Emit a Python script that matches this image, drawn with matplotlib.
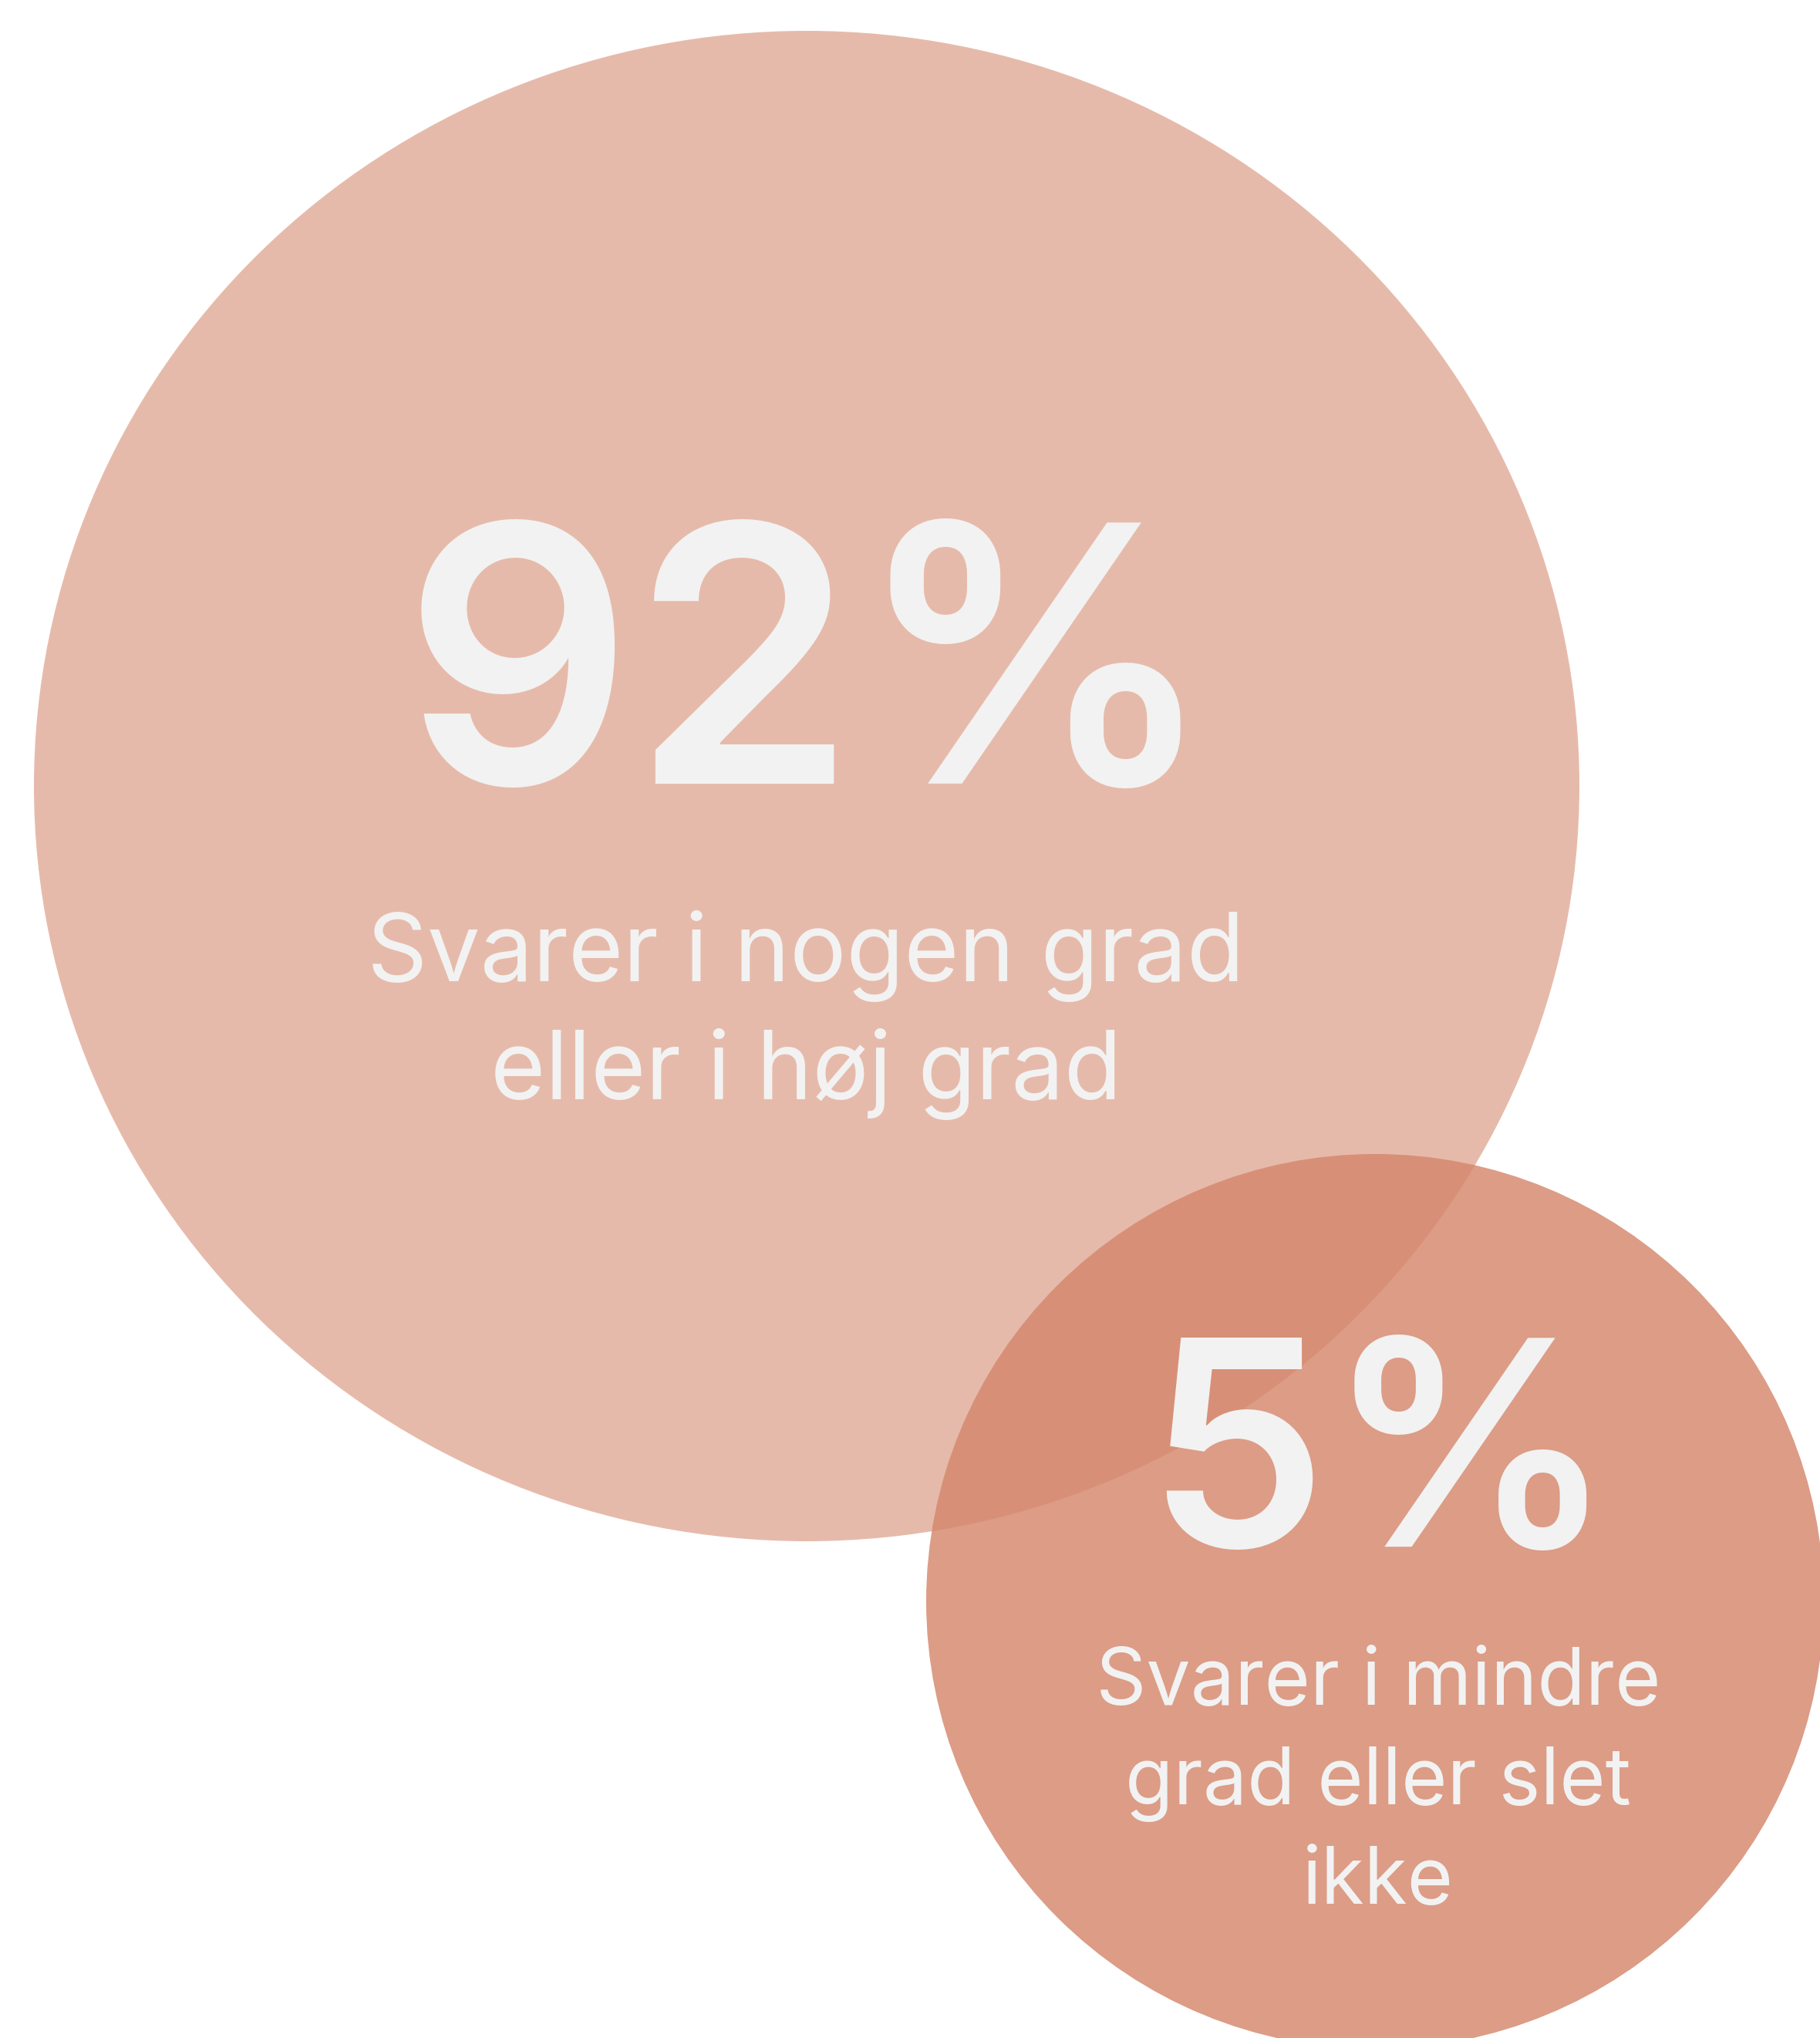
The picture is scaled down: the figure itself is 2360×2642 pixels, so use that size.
import matplotlib
matplotlib.use("Agg")
import matplotlib.pyplot as plt
from matplotlib.patches import Ellipse

# ---- data ----
shares = [92, 5]
captions = [
    ["Svarer i nogen grad", "eller i høj grad"],
    ["Svarer i mindre", "grad eller slet", "ikke"],
]

# ---- layout / style ----
W, H, DPI = 2360, 2642, 100
base_color = "#D5886D"
alphas = [0.58, 0.83]
text_color = "#F2F2F2"
# ellipse geometry in pixels (cx, cy, rx, ry)
geoms = [(1046, 1019, 1002, 979), (1783, 2076, 582, 580)]
# number text: (x, baseline, size px em)
num_pos = [(1050, 1016, 465), (1790, 2005, 372)]
# caption: (x, first baseline, line spacing, em px)
cap_pos = [(1045, 1272, 153, 122), (1787, 2210, 129, 102)]

FONT = ["Inter", "DejaVu Sans"]

fig = plt.figure(figsize=(W / DPI, H / DPI), dpi=DPI)
fig.patch.set_facecolor("white")
ax = fig.add_axes([0, 0, 1, 1])
ax.set_xlim(0, W)
ax.set_ylim(H, 0)
ax.axis("off")

for (cx, cy, rx, ry), a in zip(geoms, alphas):
    ax.add_patch(Ellipse((cx, cy), 2 * rx, 2 * ry, facecolor=base_color,
                         edgecolor="none", alpha=a, zorder=1))

px2pt = 72.0 / DPI
for share, (x, yb, em) in zip(shares, num_pos):
    ax.text(x, yb, f"{share}%", ha="center", va="baseline",
            fontsize=em * px2pt, fontweight="semibold", family=FONT,
            color=text_color, zorder=3)

for lines, (x, y0, dy, em) in zip(captions, cap_pos):
    for i, line in enumerate(lines):
        ax.text(x, y0 + i * dy, line, ha="center", va="baseline",
                fontsize=em * px2pt, fontweight="normal", family=FONT,
                color=text_color, zorder=3)

fig.savefig("out.png", dpi=DPI, facecolor="white")
